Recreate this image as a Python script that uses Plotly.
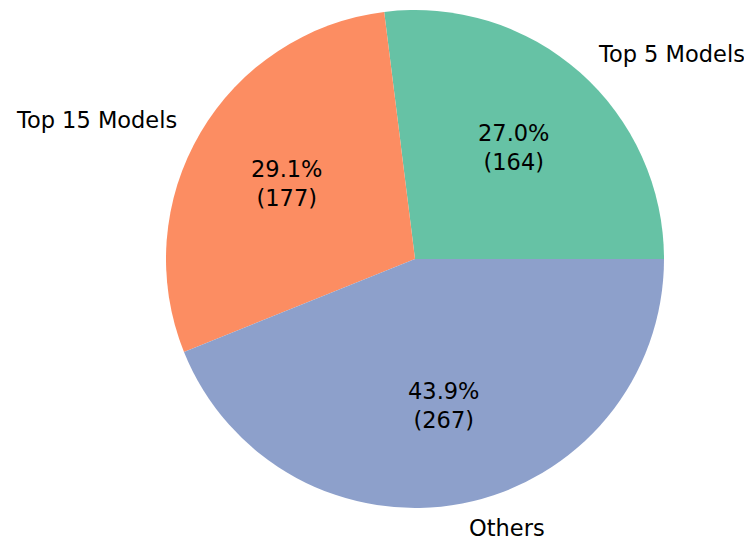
import numpy as np
import plotly.graph_objects as go

# --- DATA ---
labels = ["Top 5 Models", "Top 15 Models", "Others"]
counts = [164, 177, 267]
colors = ["#66c2a5", "#fc8d62", "#8da0cb"]

W, H = 752, 541
OFF = 8  # browser body margin around the plot div
# pie placement in window pixels (center + radius)
CX, CY, R = 415, 259, 249
FONT = dict(family="DejaVu Sans", size=22.5, color="#000000")


def main():
    fw, fh = W - 2 * OFF, H - OFF
    cx, cy = CX - OFF, CY - OFF

    dom_x = [(cx - R) / fw, (cx + R) / fw]
    dom_y = [1 - (cy + R) / fh, 1 - (cy - R) / fh]

    vals = np.array(counts, dtype=float)
    frac = vals / vals.sum()

    # plotly's counterclockwise mode ends the first slice at `rotation`,
    # so shift it to make the first slice start at 3 o'clock (like matplotlib)
    rot = 90 - 360 * frac[0]

    fig = go.Figure(go.Pie(
        labels=labels,
        values=counts,
        marker=dict(colors=colors, line=dict(width=0)),
        sort=False,
        direction="counterclockwise",
        rotation=rot,
        textinfo="none",
        hoverinfo="label+value+percent",
        showlegend=False,
        domain=dict(x=dom_x, y=dom_y),
    ))

    # matplotlib-style label placement: autopct at 0.6r, labels at 1.1r
    ends = np.cumsum(frac) * 360
    starts = ends - frac * 360
    mids = np.radians((starts + ends) / 2)

    annotations = []
    for lab, v, p, a in zip(labels, counts, frac * 100, mids):
        px_ = cx + 0.6 * R * np.cos(a)
        py_ = cy - 0.6 * R * np.sin(a)
        annotations.append(dict(
            x=px_ / fw, y=1 - py_ / fh, xref="paper", yref="paper",
            text=f"{p:.1f}%<br>({v})", showarrow=False,
            xanchor="center", yanchor="middle", align="center", font=FONT,
        ))
        lx = cx + 1.1 * R * np.cos(a)
        ly = cy - 1.1 * R * np.sin(a)
        annotations.append(dict(
            x=lx / fw, y=1 - ly / fh, xref="paper", yref="paper",
            text=lab, showarrow=False,
            xanchor="left" if np.cos(a) > 0 else "right", yanchor="middle",
            font=FONT,
        ))

    fig.update_layout(
        width=fw, height=fh,
        margin=dict(l=0, r=0, t=0, b=0),
        paper_bgcolor="#ffffff",
        plot_bgcolor="#ffffff",
        annotations=annotations,
    )

    fig.write_html("out.html")


if __name__ == "__main__":
    main()
